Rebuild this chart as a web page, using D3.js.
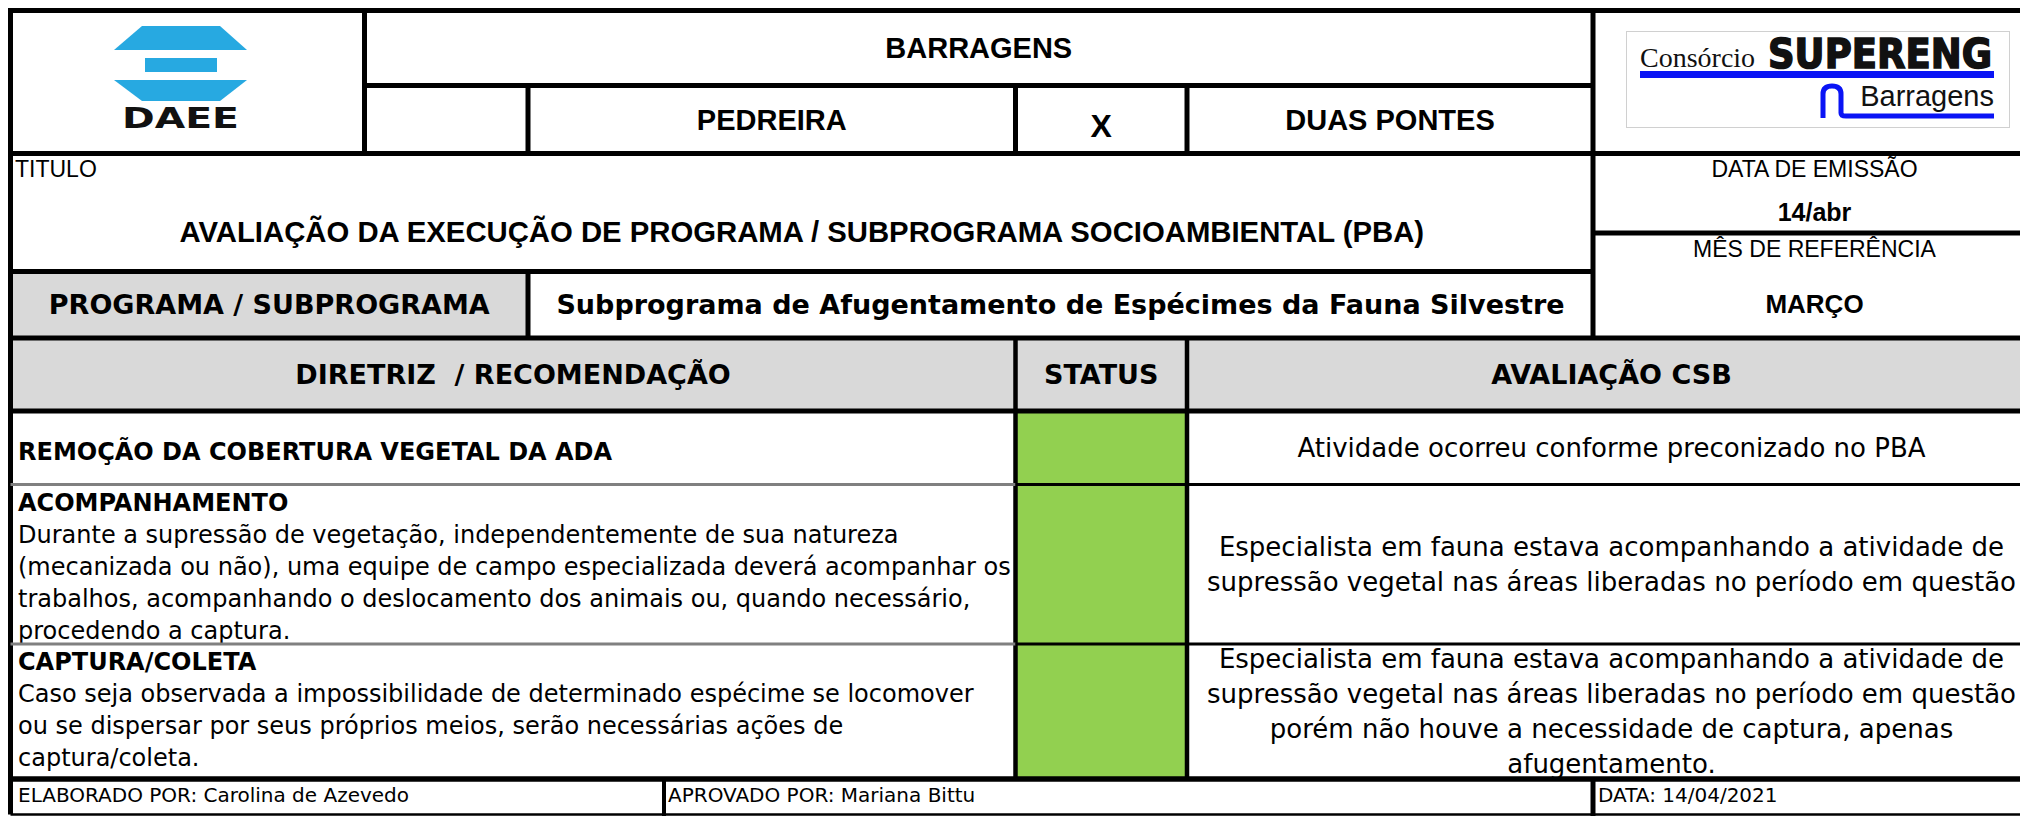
<!DOCTYPE html>
<html>
<head>
<meta charset="utf-8">
<script src="https://cdn.jsdelivr.net/npm/d3@7"></script>
<style>
  html, body { margin: 0; padding: 0; background: #fff; }
  svg { display: block; }
  text { white-space: pre; }
</style>
</head>
<body>
<script>
// ---------------- DATA ----------------
const obraTitulo = ["BARRAGENS"];
const obraNomes = ["PEDREIRA", "X", "DUAS PONTES"];
const tituloLabel = ["TITULO"];
const tituloTexto = ["AVALIAÇÃO DA EXECUÇÃO DE PROGRAMA / SUBPROGRAMA SOCIOAMBIENTAL (PBA)"];
const dataLabels = ["DATA DE EMISSÃO", "14/abr"];
const mesLabels = ["MÊS DE REFERÊNCIA", "MARÇO"];
const programaLabels = ["PROGRAMA / SUBPROGRAMA", "Subprograma de Afugentamento de Espécimes da Fauna Silvestre"];
const colunas = ["DIRETRIZ  / RECOMENDAÇÃO", "STATUS", "AVALIAÇÃO CSB"];
const diretrizTitulos = ["REMOÇÃO DA COBERTURA VEGETAL DA ADA", "ACOMPANHAMENTO", "CAPTURA/COLETA"];
const diretrizTextos = [
  [],
  ["Durante a supressão de vegetação, independentemente de sua natureza",
   "(mecanizada ou não), uma equipe de campo especializada deverá acompanhar os",
   "trabalhos, acompanhando o deslocamento dos animais ou, quando necessário,",
   "procedendo a captura."],
  ["Caso seja observada a impossibilidade de determinado espécime se locomover",
   "ou se dispersar por seus próprios meios, serão necessárias ações de",
   "captura/coleta."]
];
const statusValores = ["atendido", "atendido", "atendido"];
const avaliacaoTextos = [
  ["Atividade ocorreu conforme preconizado no PBA"],
  ["Especialista em fauna estava acompanhando a atividade de",
   "supressão vegetal nas áreas liberadas no período em questão"],
  ["Especialista em fauna estava acompanhando a atividade de",
   "supressão vegetal nas áreas liberadas no período em questão",
   "porém não houve a necessidade de captura, apenas",
   "afugentamento."]
];
const rodape = ["ELABORADO POR: Carolina de Azevedo", "APROVADO POR: Mariana Bittu", "DATA: 14/04/2021"];

// ---------------- LAYOUT ----------------
const W = 2020, H = 816;
const ARIAL = "'Liberation Sans', Arial, Helvetica, sans-serif";
const VERD = "'DejaVu Sans', Verdana, sans-serif";
const GRAY = "#d9d9d9";
const xL = 10.5, xLogo = 364.5, xC1 = 528, xC2 = 1015.5, xC3 = 1187, xR1 = 1593, xR = 2036, xFoot = 664;
const yT = 10.5, yR1 = 85.5, yR2 = 153.5, yDate = 233, yR3 = 271.5, yR4 = 338, yR5 = 411, yFoot = 779, yB = 814.5;
const rowEdges = [411, 484.5, 644, yFoot];

const statusColor = d3.scaleOrdinal().domain(["atendido", "parcial", "nao"]).range(["#92d050", "#ffff00", "#ff0000"]);
const rowY = d3.scaleOrdinal().domain(d3.range(diretrizTitulos.length)).range(rowEdges.slice(0, -1));
const rowH = i => rowEdges[i + 1] - rowEdges[i];

const svg = d3.select("body").append("svg").attr("width", W).attr("height", H);
svg.append("rect").attr("width", W).attr("height", H).attr("fill", "#fff");

// ---------------- FILLS ----------------
svg.append("rect").attr("x", xL).attr("y", yR3).attr("width", xC1 - xL).attr("height", yR4 - yR3).attr("fill", GRAY);
svg.append("rect").attr("x", xL).attr("y", yR4).attr("width", xR - xL).attr("height", yR5 - yR4).attr("fill", GRAY);
svg.selectAll("rect.status").data(statusValores).join("rect").attr("class", "status")
  .attr("x", xC2).attr("y", (d, i) => rowY(i)).attr("width", xC3 - xC2).attr("height", (d, i) => rowH(i))
  .attr("fill", d => statusColor(d));

// ---------------- LOGOS ----------------
const daee = svg.append("g");
const blue = "#27a9e1";
const daeeShapes = [
  [[142, 26], [220, 26], [247, 50], [114, 50]],
  [[145, 58], [217, 58], [217, 72], [145, 72]],
  [[114, 80], [247, 80], [220, 101], [142, 101]]
];
daee.selectAll("polygon").data(daeeShapes).join("polygon")
  .attr("points", d => d.map(p => p.join(",")).join(" ")).attr("fill", blue);
daee.append("text").attr("x", 122).attr("y", 128).attr("font-family", VERD).attr("font-weight", 900)
  .attr("font-size", 28).attr("textLength", 117).attr("lengthAdjust", "spacingAndGlyphs").attr("fill", "#111").text("DAEE");

const sup = svg.append("g");
sup.append("rect").attr("x", 1626.5).attr("y", 31.5).attr("width", 383).attr("height", 96).attr("fill", "#fff").attr("stroke", "#d0d0d0").attr("stroke-width", 1);
sup.append("text").attr("x", 1640).attr("y", 67).attr("font-family", "'Liberation Serif', 'Times New Roman', serif")
  .attr("font-size", 28).attr("fill", "#111").text("Consórcio");
sup.append("text").attr("x", 1768).attr("y", 68).attr("font-family", VERD).attr("font-weight", 900)
  .attr("font-size", 41).attr("textLength", 224).attr("lengthAdjust", "spacingAndGlyphs")
  .attr("fill", "#111").attr("stroke", "#111").attr("stroke-width", 1.6).text("SUPERENG");
sup.append("rect").attr("x", 1640).attr("y", 71).attr("width", 354).attr("height", 7).attr("fill", "#0a14f5");
sup.append("path").attr("d", "M1823,118 V94 Q1823,86 1832,86 Q1841,86 1841,94 V113 Q1841,116 1846,116 H1994")
  .attr("fill", "none").attr("stroke", "#0a14f5").attr("stroke-width", 5);
sup.append("text").attr("x", 1994).attr("y", 106).attr("text-anchor", "end").attr("font-family", ARIAL)
  .attr("font-size", 29).attr("fill", "#111").text("Barragens");

// ---------------- HEADER TEXTS ----------------
function txt(x, y, s, size, opts = {}) {
  return svg.append("text").attr("x", x).attr("y", y).attr("font-family", opts.family || ARIAL)
    .attr("font-size", size).attr("font-weight", opts.bold ? "bold" : "normal")
    .attr("text-anchor", opts.anchor || "middle").attr("fill", "#000").text(s);
}
txt((xLogo + xR1) / 2, 58, obraTitulo[0], 29, { bold: true });
const obraCenters = [(xC1 + xC2) / 2, (xC2 + xC3) / 2, (xC3 + xR1) / 2];
svg.selectAll("text.obra").data(obraNomes).join("text").attr("class", "obra")
  .attr("x", (d, i) => obraCenters[i]).attr("y", (d, i) => i === 1 ? 137 : 130)
  .attr("font-family", ARIAL).attr("font-weight", "bold").attr("font-size", (d, i) => i === 1 ? 32 : 29)
  .attr("text-anchor", "middle").text(d => d);

txt(15, 177, tituloLabel[0], 23, { anchor: "start" });
txt((xL + xR1) / 2, 242, tituloTexto[0], 29.3, { bold: true });

const xRc = (xR1 + xR) / 2;
txt(xRc, 177, dataLabels[0], 23);
txt(xRc, 221, dataLabels[1], 25, { bold: true });
txt(xRc, 257, mesLabels[0], 23);
txt(xRc, 313, mesLabels[1], 26, { bold: true });

txt((xL + xC1) / 2, 314, programaLabels[0], 27, { bold: true, family: VERD });
txt((xC1 + xR1) / 2, 314, programaLabels[1], 27, { bold: true, family: VERD });

const colCenters = [(xL + xC2) / 2, (xC2 + xC3) / 2, (xC3 + xR) / 2];
svg.selectAll("text.col").data(colunas).join("text").attr("class", "col")
  .attr("x", (d, i) => colCenters[i]).attr("y", 384).attr("font-family", VERD).attr("font-weight", "bold")
  .attr("font-size", 27).attr("text-anchor", "middle").text(d => d);

// ---------------- DATA ROWS ----------------
const rows = svg.selectAll("g.row").data(diretrizTitulos).join("g").attr("class", "row");
rows.each(function (d, i) {
  const g = d3.select(this);
  const top = rowY(i), h = rowH(i);
  const body = diretrizTextos[i];
  const titleY = body.length ? top + 26 : top + h / 2 + 12;
  g.append("text").attr("x", 18).attr("y", titleY).attr("font-family", VERD).attr("font-weight", "bold")
    .attr("font-size", 24).text(d);
  g.selectAll("text.body").data(body).join("text").attr("class", "body")
    .attr("x", 18).attr("y", (t, j) => titleY + 32 * (j + 1)).attr("font-family", VERD)
    .attr("font-size", 24).text(t => t);
  const av = avaliacaoTextos[i];
  const cy = top + h / 2 + 9.4;
  g.selectAll("text.av").data(av).join("text").attr("class", "av")
    .attr("x", (xC3 + xR) / 2).attr("y", (t, j) => cy + (j - (av.length - 1) / 2) * 35)
    .attr("font-family", VERD).attr("font-size", 26).attr("text-anchor", "middle").text(t => t);
});

// ---------------- FOOTER ----------------
const footX = [18, xFoot + 4, xR1 + 5];
svg.selectAll("text.foot").data(rodape).join("text").attr("class", "foot")
  .attr("x", (d, i) => footX[i]).attr("y", 802).attr("font-family", VERD).attr("font-size", 20).text(d => d);

// ---------------- GRID LINES ----------------
const thick = 5;
const lines = [
  [xL, yT, xR, yT, thick], [xL, yT - 2.5, xL, yB, thick],
  [xLogo, yT, xLogo, yR2, thick], [xLogo, yR1, xR1, yR1, thick],
  [xC1, yR1, xC1, yR2, thick], [xC2, yR1, xC2, yR2, thick], [xC3, yR1, xC3, yR2, thick],
  [xR1, yT, xR1, yR4, thick], [xL, yR2, xR, yR2, thick], [xR1, yDate, xR, yDate, thick],
  [xL, yR3, xR1, yR3, thick], [xC1, yR3, xC1, yR4, thick], [xL, yR4, xR, yR4, thick],
  [xC2, yR4, xC2, yFoot, 4.5], [xC3, yR4, xC3, yFoot, 4.5], [xL, yR5, xR, yR5, thick],
  [xL, yFoot, xR, yFoot, 5.5], [xFoot, yFoot, xFoot, H, 4], [xR1, yFoot, xR1, H, 5],
  [xL, yB, xR, yB, 2.5]
];
rowEdges.slice(1, -1).forEach(y => {
  lines.push([xL, y, xC2, y, 3, "#808080"]);
  lines.push([xC2, y, xR, y, 3, "#000"]);
});
svg.selectAll("line.grid").data(lines).join("line").attr("class", "grid")
  .attr("x1", d => d[0]).attr("y1", d => d[1]).attr("x2", d => d[2]).attr("y2", d => d[3])
  .attr("stroke", d => d[5] || "#000").attr("stroke-width", d => d[4]);
</script>
</body>
</html>
